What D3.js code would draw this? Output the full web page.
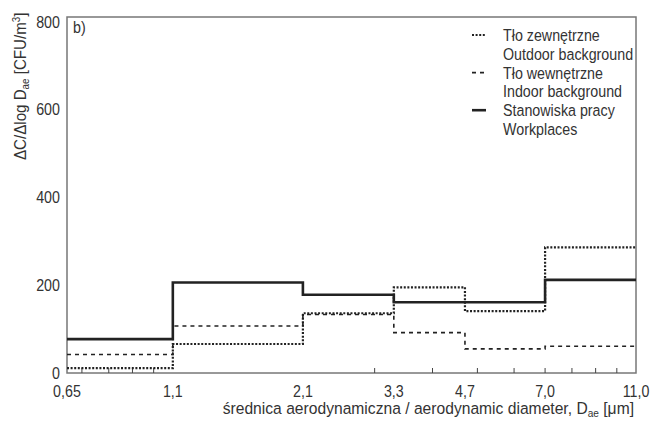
<!DOCTYPE html>
<html><head><meta charset="utf-8">
<script src="https://cdn.jsdelivr.net/npm/d3@7"></script>
<style>
body{margin:0;background:#fff;}
text{font-family:"Liberation Sans",Arial,sans-serif;fill:#333;}
</style></head><body>
<svg id="c" width="651" height="421"></svg>
<script>
const edges = [0.65, 1.1, 2.1, 3.3, 4.7, 7.0, 11.0];
const edgeLabels = ["0,65","1,1","2,1","3,3","4,7","7,0","11,0"];
const outdoor = [11, 66, 136, 195, 141, 286];
const indoor = [42, 107, 133, 92, 55, 61];
const workplaces = [77, 206, 178, 161, 161, 212];
const yTicks = [0, 200, 400, 600, 800];
const minorTicks = [0.7, 0.8, 0.9, 1.0, 3, 4, 5, 6, 7, 8, 9, 10];
const seriesNames = [
  ["Tło zewnętrzne","Outdoor background"],
  ["Tło wewnętrzne","Indoor background"],
  ["Stanowiska pracy","Workplaces"]
];

const L=67, R=636, T=17, B=373;
const svg = d3.select("#c");
const x = d3.scaleLog().domain([0.65, 11]).range([L, R]);
const y = d3.scaleLinear().domain([0, 800]).range([B, 21.5]);

function ntext(px, py, anchor, size, rot, sx){
  const g = svg.append("g").attr("transform",`translate(${px},${py})${rot?" rotate("+rot+")":""} scale(${sx||0.84},1)`);
  return g.append("text").attr("text-anchor",anchor||"start").attr("font-size",size||17);
}

// frame
svg.append("rect").attr("x",L).attr("y",T).attr("width",R-L).attr("height",B-T)
  .attr("fill","none").attr("stroke","#777").attr("stroke-width",1.5);

// minor ticks inward
svg.append("g").selectAll("line").data(minorTicks).join("line")
  .attr("x1",d=>x(d)).attr("x2",d=>x(d)).attr("y1",B).attr("y2",B-5)
  .attr("stroke","#444").attr("stroke-width",1);

// x labels
edges.forEach((d,i)=>{ ntext(x(d), 396.5, "middle", 17).text(edgeLabels[i]); });

// y labels
yTicks.forEach(d=>{ ntext(60, y(d)+6, "end", 17).text(d); });

// series
const line = d3.line().x(d=>x(d[0])).y(d=>y(d[1])).curve(d3.curveStepAfter);
function pts(vals){ const p = vals.map((v,i)=>[edges[i], v]); p.push([edges[edges.length-1], vals[vals.length-1]]); return p; }
const styles = [
  {data:outdoor, dash:"2,1.6", w:2.2},
  {data:indoor, dash:"4,4", w:1.6},
  {data:workplaces, dash:null, w:2.6}
];
styles.forEach(s=>{
  svg.append("path").attr("d", line(pts(s.data))).attr("fill","none")
    .attr("stroke","#222").attr("stroke-width",s.w)
    .attr("stroke-dasharray", s.dash);
});

// panel label
ntext(73, 33, "start", 17).text("b)");

// legend
const legendBase = [41, 78.6, 116.2];
styles.forEach((s,i)=>{
  const yy = legendBase[i] - 6;
  svg.append("line").attr("x1",472).attr("x2",486).attr("y1",yy).attr("y2",yy)
    .attr("stroke","#222").attr("stroke-width",s.w).attr("stroke-dasharray",s.dash);
  ntext(503, legendBase[i], "start", 17).text(seriesNames[i][0]);
  ntext(503, legendBase[i]+18.8, "start", 17).text(seriesNames[i][1]);
});

// x title
const xt = ntext(634, 414, "end", 17, null, 0.92);
xt.append("tspan").text("średnica aerodynamiczna / aerodynamic diameter, D");
xt.append("tspan").attr("font-size",11).attr("dy",3).text("ae");
xt.append("tspan").attr("dy",-3).text(" [μm]");

// y title
const yt = ntext(26, 160, "start", 17, -90, 0.89);
yt.append("tspan").text("ΔC/Δlog D");
yt.append("tspan").attr("font-size",11).attr("dy",3).text("ae");
yt.append("tspan").attr("dy",-3).text(" [CFU/m");
yt.append("tspan").attr("font-size",11).attr("dy",-6).text("3");
yt.append("tspan").attr("dy",6).text("]");
</script></body></html>
